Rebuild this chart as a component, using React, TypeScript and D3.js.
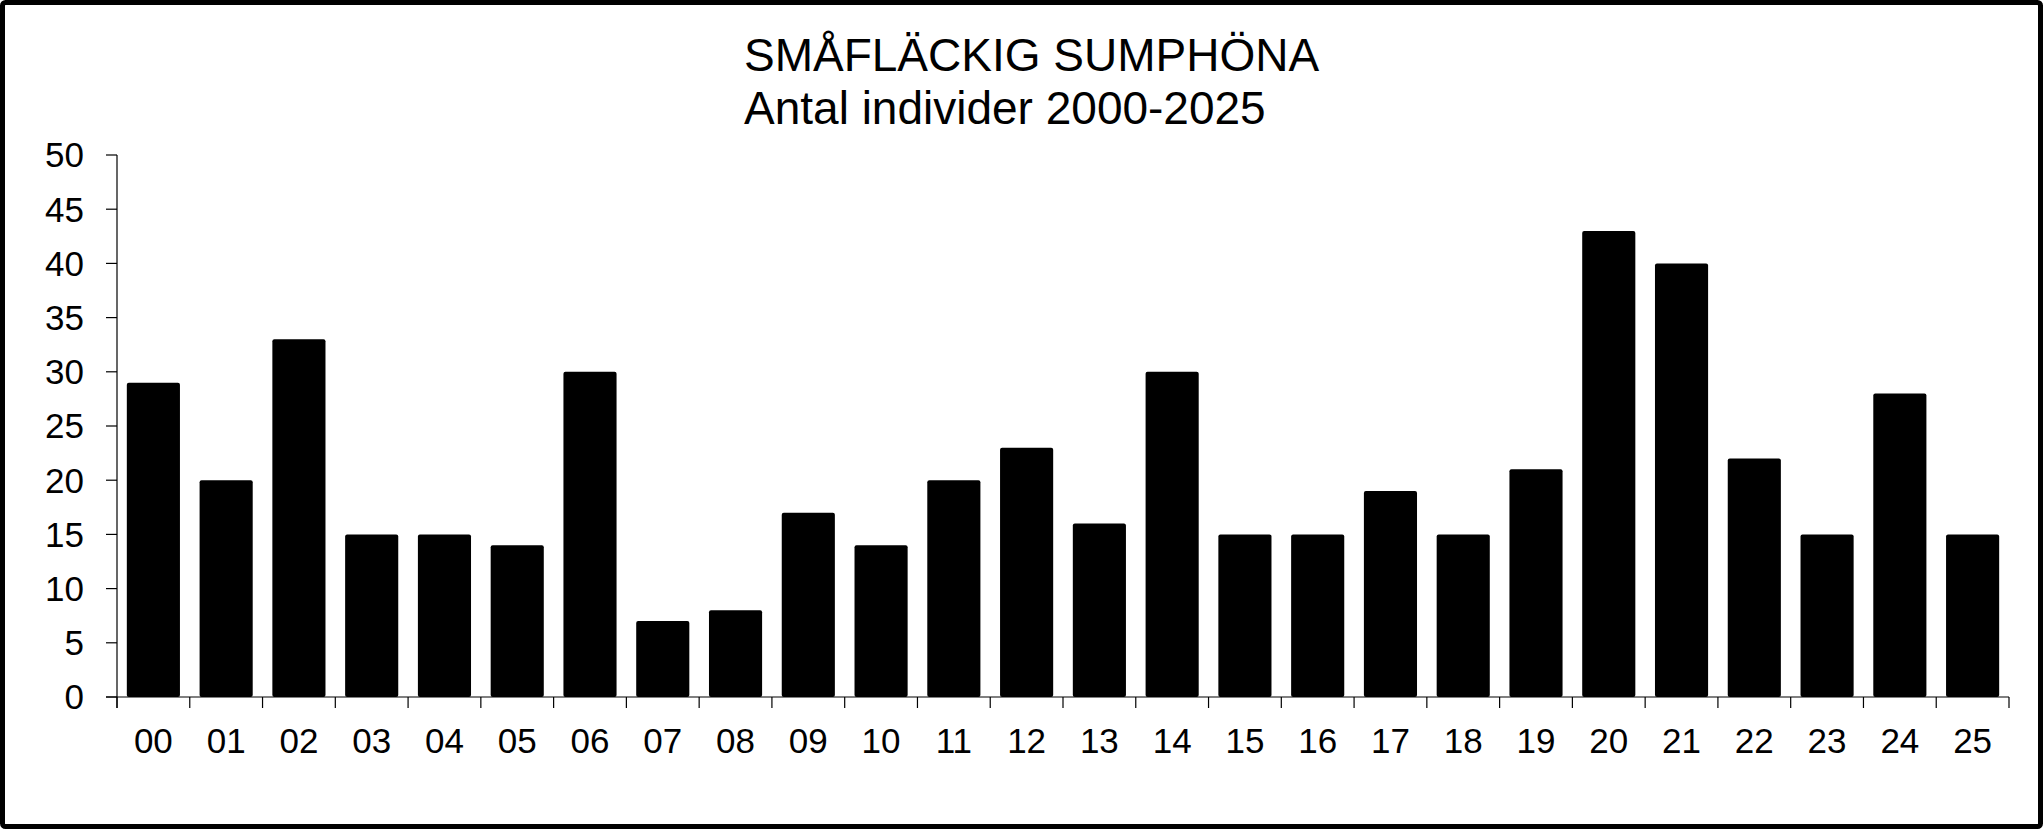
import React from "react";
import * as d3 from "d3";

const categories = ["00","01","02","03","04","05","06","07","08","09","10","11","12","13","14","15","16","17","18","19","20","21","22","23","24","25"];
const values = [29,20,33,15,15,14,30,7,8,17,14,20,23,16,30,15,15,19,15,21,43,40,22,15,28,15];
const yTicks = [0,5,10,15,20,25,30,35,40,45,50];
const titleLines = ["SMÅFLÄCKIG SUMPHÖNA", "Antal individer 2000-2025"];

const W = 2043;
const H = 829;
const FONT = "'Liberation Sans', Arial, Helvetica, sans-serif";

export default function App() {
  const x = d3.scaleBand<string>().domain(categories).range([117, 2009]).paddingInner(0.27).paddingOuter(0.135);
  const y = d3.scaleLinear().domain([0, 50]).range([697, 155]);
  const step = x.step();
  const x0 = 117;
  const boundaries = d3.range(categories.length + 1).map((i) => x0 + i * step);

  return (
    <svg width={W} height={H} style={{ position: "absolute", left: 0, top: 0, display: "block" }} fontFamily={FONT}>
      <rect x={0} y={0} width={W} height={H} fill="white" />
      <rect x={2.5} y={2.5} width={W - 5} height={H - 5} fill="none" stroke="black" strokeWidth={5} rx={3} />
      {titleLines.map((t, i) => (
        <text key={i} x={744} y={71 + i * 53} fontSize={46} fill="black">{t}</text>
      ))}
      {values.map((v, i) => (
        <rect key={categories[i]} x={x(categories[i])} y={y(v)} width={x.bandwidth()} height={y(0) - y(v)} fill="black" rx={2} />
      ))}
      <line x1={117} x2={117} y1={y(50)} y2={y(0) + 11} stroke="black" strokeWidth={1.2} />
      <line x1={106} x2={2009} y1={y(0)} y2={y(0)} stroke="black" strokeWidth={1.2} />
      {yTicks.map((t) => (
        <g key={t}>
          <line x1={106} x2={117} y1={y(t)} y2={y(t)} stroke="black" strokeWidth={1.2} />
          <text x={84} y={y(t)} dy="0.355em" textAnchor="end" fontSize={35} fill="black">{t}</text>
        </g>
      ))}
      {boundaries.map((b, i) => (
        <line key={i} x1={b} x2={b} y1={y(0)} y2={y(0) + 11} stroke="black" strokeWidth={1.2} />
      ))}
      {categories.map((c) => (
        <text key={c} x={(x(c) as number) + x.bandwidth() / 2} y={753} textAnchor="middle" fontSize={35} fill="black">{c}</text>
      ))}
    </svg>
  );
}
